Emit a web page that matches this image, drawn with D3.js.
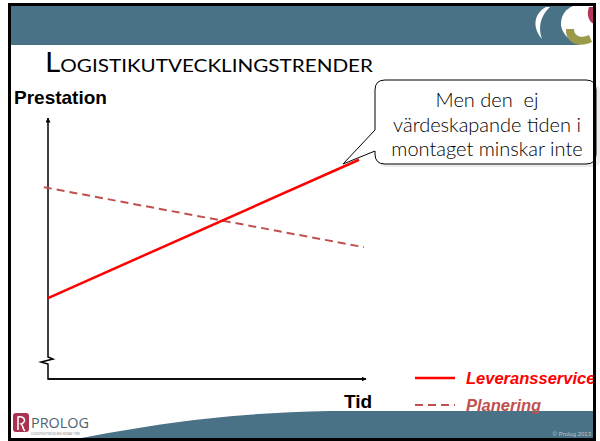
<!DOCTYPE html>
<html>
<head>
<meta charset="utf-8">
<script src="https://cdn.jsdelivr.net/npm/d3@7"></script>
<style>
  body { margin: 0; background: #fff; }
  svg { display: block; }
</style>
</head>
<body>
<div id="chart"></div>
<script>
const width = 600;
const height = 441;

// data
const seriesNames = ["Leveransservice", "Planering"];
const timeValues = [[0, 97.8], [-1.3, 99.4]];
const levValues = [31, 84];
const planValues = [73.5, 50.5];
const calloutLines = ["Men den  ej", "värdeskapande tiden i", "montaget minskar inte"];

const teal = "#4a7287";
const red = "#ff0000";
const dashRed = "#c0504d";

const svg = d3.select("#chart").append("svg")
    .attr("width", width)
    .attr("height", height);

// slide background
svg.append("rect").attr("x", 11).attr("y", 6).attr("width", 583).attr("height", 39).attr("fill", teal);

// bottom wave
svg.append("path")
    .attr("d", "M 75 439 C 150 425, 220 413, 330 411 L 594 411 L 594 439 Z")
    .attr("fill", teal);

// top-right logo
const logo = svg.append("g");
logo.append("path")
    .attr("d", "M 573 6 L 594 6 L 594 45 L 580 45 C 568 40, 560 32, 561 22 C 562 14, 566 9, 573 6 Z")
    .attr("fill", "#fff");
logo.append("path")
    .attr("d", "M 546 7 C 535 13, 531 26, 542 39 C 538 28, 540 16, 550 7 Z")
    .attr("fill", "#fff");
logo.append("path")
    .attr("d", "M 566 29 C 565 42, 578 49, 592 42 L 589 35 C 581 39, 574 36, 574 29 Z")
    .attr("fill", "#9b9a4a");
logo.append("path")
    .attr("d", "M 589 7 L 594 7 L 594 24 C 589 22, 586 15, 589 7 Z")
    .attr("fill", "#b5365a");

// title
svg.append("text")
    .attr("x", 45).attr("y", 72)
    .attr("font-family", "Lato, 'Open Sans', sans-serif")
    .attr("font-size", 26)
    .style("font-variant", "small-caps")
    .attr("textLength", 328)
    .attr("lengthAdjust", "spacingAndGlyphs")
    .attr("fill", "#000")
    .text("Logistikutvecklingstrender");

// scales
const x = d3.scaleLinear().domain([0, 100]).range([48, 366]);
const y = d3.scaleLinear().domain([0, 100]).range([379, 118]);

// arrow marker
const defs = svg.append("defs");
defs.append("marker")
    .attr("id", "arrow")
    .attr("viewBox", "0 -5 10 10")
    .attr("refX", 9).attr("refY", 0)
    .attr("markerWidth", 5).attr("markerHeight", 5)
    .attr("markerUnits", "userSpaceOnUse")
    .attr("orient", "auto")
    .append("path").attr("d", "M0,-5L10,0L0,5Z").attr("fill", "#000");

// axes with break
const x0 = x(0), y0 = y(0);
svg.append("path")
    .attr("d", `M ${x(100)} ${y0} L ${x0} ${y0} L ${x0} 364 L 41 362 L 53 359 L ${x0} 357 L ${x0} ${y(100)}`)
    .attr("fill", "none").attr("stroke", "#000").attr("stroke-width", 1.5)
    .attr("marker-end", "url(#arrow)");
svg.append("line")
    .attr("x1", x0).attr("y1", y0).attr("x2", x(100)).attr("y2", y0)
    .attr("stroke", "#000").attr("stroke-width", 1.5)
    .attr("marker-end", "url(#arrow)");

// axis labels
svg.append("text").attr("x", 14).attr("y", 104)
    .attr("font-family", "Arial, 'Liberation Sans', sans-serif")
    .attr("font-weight", "bold").attr("font-size", 19).text("Prestation");
svg.append("text").attr("x", 344).attr("y", 408)
    .attr("font-family", "Arial, 'Liberation Sans', sans-serif")
    .attr("font-weight", "bold").attr("font-size", 19).text("Tid");

// series
const line = d3.line().x(d => x(d[0])).y(d => y(d[1]));
svg.append("path")
    .datum(timeValues[1].map((t, i) => [t, planValues[i]]))
    .attr("d", line)
    .attr("fill", "none").attr("stroke", dashRed).attr("stroke-width", 2)
    .attr("stroke-dasharray", "8,5");
svg.append("path")
    .datum(timeValues[0].map((t, i) => [t, levValues[i]]))
    .attr("d", line)
    .attr("fill", "none").attr("stroke", red).attr("stroke-width", 2.5);

// callout
const co = svg.append("g");
co.append("path")
    .attr("d", "M 379 84 L 592 84 Q 600 84 600 92 L 600 160 Q 600 167 592 167 L 386 167 Q 379 167 379 160 Z")
    .attr("fill", "#ececec");
co.append("path")
    .attr("d", "M 385 80 L 586 80 Q 596 80 596 90 L 596 154 Q 596 164 586 164 L 385 164 Q 375 164 375 154 L 375 151 L 343 164 L 375 130 L 375 90 Q 375 80 385 80 Z")
    .attr("fill", "#fff").attr("stroke", "#000").attr("stroke-width", 1);
co.append("text")
    .attr("font-family", "Lato, 'Open Sans', sans-serif")
    .attr("font-size", 20)
    .attr("font-weight", 300)
    .attr("text-anchor", "middle")
    .attr("fill", "#000")
    .style("white-space", "pre")
    .selectAll("tspan")
    .data(calloutLines)
    .enter().append("tspan")
    .attr("x", 487)
    .attr("y", (d, i) => 107 + i * 24.5)
    .text(d => d);

// legend
const legend = svg.append("g");
const legendStyles = [
    { color: red, dash: null, w: 2.5 },
    { color: dashRed, dash: "8,5", w: 2 }
];
seriesNames.forEach((name, i) => {
    const ly = 378 + i * 27;
    legend.append("line")
        .attr("x1", 415).attr("x2", 455).attr("y1", ly).attr("y2", ly)
        .attr("stroke", legendStyles[i].color).attr("stroke-width", legendStyles[i].w)
        .attr("stroke-dasharray", legendStyles[i].dash);
    legend.append("text")
        .attr("x", 466).attr("y", ly + 6)
        .attr("font-family", "Arial, 'Liberation Sans', sans-serif")
        .attr("font-weight", "bold").attr("font-style", "italic")
        .attr("font-size", 16.5)
        .attr("fill", legendStyles[i].color)
        .text(name);
});

// frame
svg.append("rect").attr("x", 9.5).attr("y", 4.5).attr("width", 585).attr("height", 435)
    .attr("fill", "none").attr("stroke", "#000").attr("stroke-width", 3);

// bottom-left logo
svg.append("rect").attr("x", 13).attr("y", 413).attr("width", 16).attr("height", 19).attr("rx", 3)
    .attr("fill", "#a8324f");
svg.append("path").attr("d", "M 18 430 L 18 417 C 25 416, 27 422, 21 424 C 24 426, 22 429, 25 431")
    .attr("fill", "none").attr("stroke", "#fff").attr("stroke-width", 1.5);
svg.append("text").attr("x", 31).attr("y", 428)
    .attr("font-family", "'Open Sans', sans-serif").attr("font-size", 14)
    .attr("fill", "#4f5f6f").attr("textLength", 58).attr("lengthAdjust", "spacingAndGlyphs")
    .text("PROLOG");
svg.append("text").attr("x", 31).attr("y", 435)
    .attr("font-family", "'Open Sans', sans-serif").attr("font-size", 3)
    .attr("fill", "#777").text("LOGISTIKUTVECKLING SEDAN 1990");

svg.append("text").attr("x", 591).attr("y", 436).attr("text-anchor", "end")
    .attr("font-family", "Arial, sans-serif").attr("font-size", 6)
    .attr("fill", "#b8c6ce").text("© Prolog 2013");
</script>
</body>
</html>
